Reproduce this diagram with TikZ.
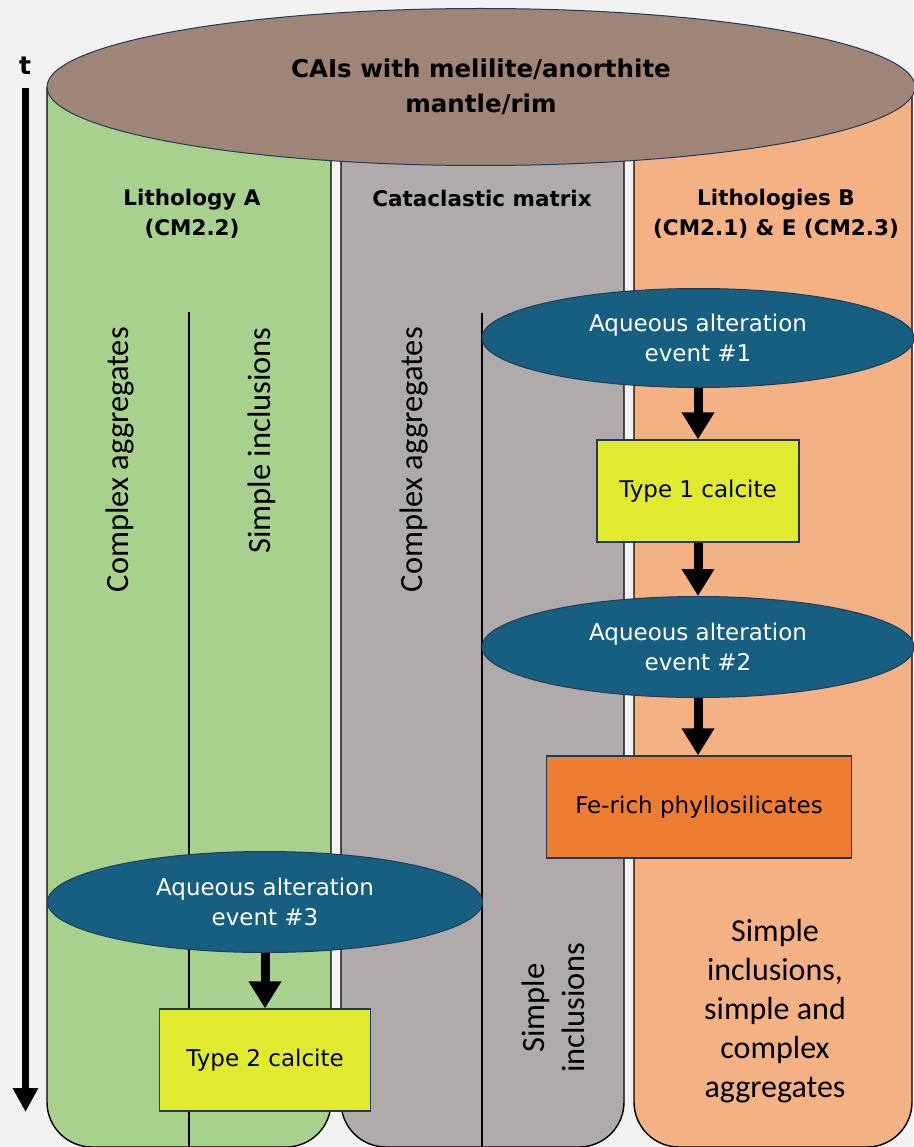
\documentclass[tikz,border=0pt]{standalone}
\usepackage{fontspec}
\setmainfont{DejaVu Sans}
\newfontfamily\calib{Carlito}
\usetikzlibrary{shapes.geometric,arrows.meta}
\definecolor{bgc}{HTML}{F2F2F2}
\definecolor{greenc}{HTML}{A9D18E}
\definecolor{grayc}{HTML}{AFABAB}
\definecolor{orangec}{HTML}{F4B183}
\definecolor{brownc}{HTML}{9F8478}
\definecolor{bluec}{HTML}{175F80}
\definecolor{yellowc}{HTML}{E0EB30}
\definecolor{deeporange}{HTML}{ED7D31}
\definecolor{edgec}{HTML}{23395B}
\begin{document}
\begin{tikzpicture}[x=1pt,y=-1pt,
  column/.style={draw=black,line width=1.4pt},
  innerline/.style={draw=black,line width=1.3pt},
  event/.style={ellipse,draw=edgec,line width=1pt,fill=bluec,text=white,inner sep=0pt,
     minimum width=432pt,minimum height=99pt,align=center,font=\fontsize{23}{30}\selectfont},
  product/.style={rectangle,draw=edgec,line width=1.2pt,inner sep=0pt,minimum height=102pt,
     align=center,font=\fontsize{23}{30}\selectfont},
  header/.style={align=center,inner sep=0pt,font=\bfseries\fontsize{21.5}{30}\selectfont},
  vlabel/.style={rotate=90,inner sep=0pt,align=center,font=\calib\fontsize{32.5}{40}\selectfont},
  flow/.style={line width=9pt,-{Triangle[width=31pt,length=27pt]}}]
\useasboundingbox[fill=bgc] (0,0) rectangle (913,1147);

% columns
\filldraw[column,fill=greenc] (47,87) [rounded corners=45pt] -- (47,1147) -- (331,1147) -- (331,87);
\filldraw[column,fill=grayc] (341,87) [rounded corners=45pt] -- (341,1147) -- (624,1147) -- (624,87);
\filldraw[column,fill=orangec] (634,87) [rounded corners=45pt] -- (634,1147) -- (912,1147) -- (912,87);

% inner dividing lines
\coordinate (gTop) at (189,312);
\coordinate (gBot) at (189,1147);
\coordinate (mTop) at (482,313);
\coordinate (mBot) at (482,1147);
\draw[innerline] (gTop) -- (gBot);
\draw[innerline] (mTop) -- (mBot);

% top ellipse
\node[ellipse,draw=edgec,line width=1pt,fill=brownc,inner sep=0pt,minimum width=868pt,minimum height=157pt,
  align=center,font=\bfseries\fontsize{24.5}{35}\selectfont] (cai) at (481,87)
  {CAIs with melilite/anorthite\\mantle/rim};

% headers
\node[header] (hA) at (192,214) {Lithology A\\(CM2.2)};
\node[header] (hM) at (482,198) {Cataclastic matrix};
\node[header] (hB) at (776,214) {Lithologies B\\(CM2.1) \& E (CM2.3)};

% vertical labels
\node[vlabel,anchor=east] (lA1) at (120,327) {Complex aggregates};
\node[vlabel,anchor=east] (lA2) at (262,327) {Simple inclusions};
\node[vlabel,anchor=east] (lM1) at (414,327) {Complex aggregates};
\node[vlabel] (lM2) at (553,1008) {Simple\\inclusions};
\node[align=center,inner sep=0pt,font=\calib\fontsize{32}{39}\selectfont] (lB) at (775,1011)
  {Simple\\inclusions,\\simple and\\complex\\aggregates};

% events and products
\node[event] (e1) at (698,338) {Aqueous alteration\\event \#1};
\node[product,fill=yellowc,minimum width=202pt] (c1) at (698,491) {Type 1 calcite};
\node[event,minimum height=101pt] (e2) at (698,647) {Aqueous alteration\\event \#2};
\node[product,fill=deeporange,minimum width=305pt] (fe) at (699,807) {Fe-rich phyllosilicates};
\node[event,minimum width=435pt,minimum height=101pt] (e3) at (265,902) {Aqueous alteration\\event \#3};
\node[product,fill=yellowc,minimum width=211pt] (c2) at (265,1060) {Type 2 calcite};

\draw[flow] (e1.south) -- (c1.north);
\draw[flow] (c1.south) -- (e2.north);
\draw[flow] (e2.south) -- (fe.north -| e2.south);
\draw[flow] (e3.south) -- (c2.north);

% time axis
\node[inner sep=0pt,font=\bfseries\fontsize{25}{30}\selectfont] (t) at (25,66) {t};
\coordinate (tStart) at (25.5,88);
\coordinate (tEnd) at (25.5,1112);
\draw[line width=7pt,-{Triangle[width=24pt,length=24pt]}] (tStart) -- (tEnd);
\end{tikzpicture}
\end{document}
